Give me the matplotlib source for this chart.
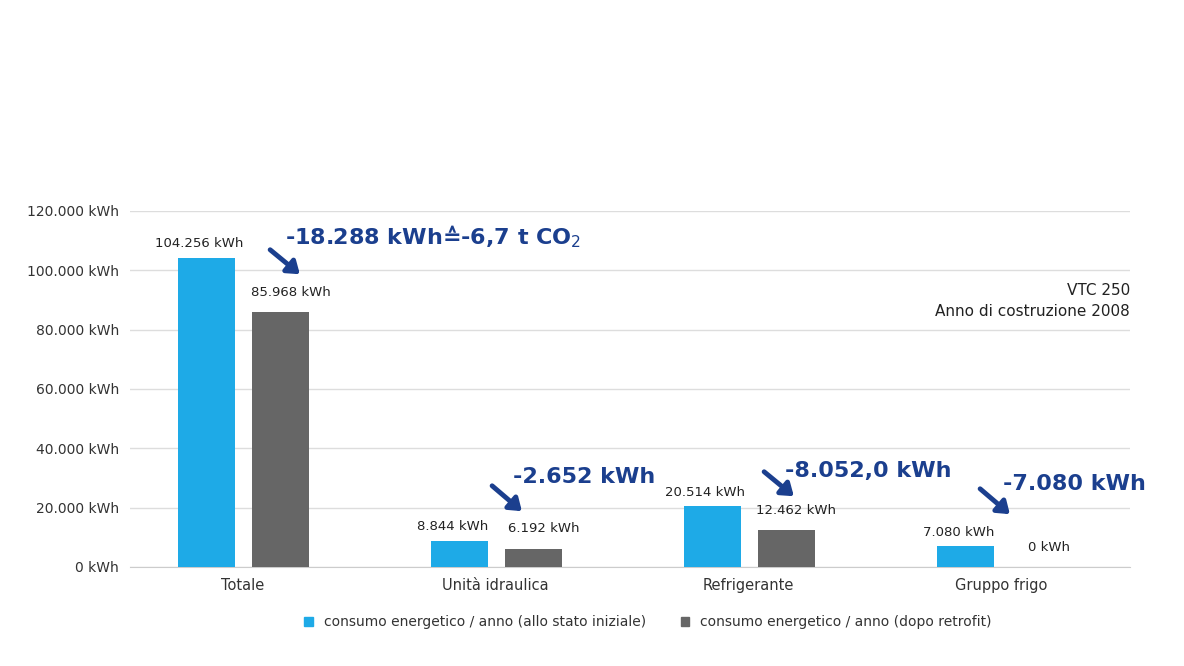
import matplotlib
matplotlib.use("Agg")
import matplotlib.pyplot as plt
import numpy as np

categories = ["Totale", "Unità idraulica", "Refrigerante", "Gruppo frigo"]
before = [104256, 8844, 20514, 7080]
after = [85968, 6192, 12462, 0]
before_labels = ["104.256 kWh", "8.844 kWh", "20.514 kWh", "7.080 kWh"]
after_labels = ["85.968 kWh", "6.192 kWh", "12.462 kWh", "0 kWh"]
yticks = [0, 20000, 40000, 60000, 80000, 100000, 120000]
ytick_labels = ["0 kWh", "20.000 kWh", "40.000 kWh", "60.000 kWh", "80.000 kWh", "100.000 kWh", "120.000 kWh"]
savings = ["-18.288 kWh\u2259-6,7 t CO$_2$", "-2.652 kWh", "-8.052,0 kWh", "-7.080 kWh"]

W, H = 1184, 666
fig = plt.figure(figsize=(W/100, H/100), dpi=100)
ax = fig.add_axes([130/W, 1-567/H, 1000/W, (567-211)/H])
blue, gray, dark = "#1EAAE7", "#666666", "#1B3F8E"
x = np.arange(len(categories))
bw = 0.225
ax.bar(x-0.19, before, bw, color=blue, zorder=3)
ax.bar(x+0.1, after, bw, color=gray, zorder=3)
for i in range(len(x)):
    ax.text(x[i]-0.22, before[i]+2500, before_labels[i], ha="center", va="bottom", fontsize=9.5, color="#222")
    ax.text(x[i]+0.14, after[i]+4500, after_labels[i], ha="center", va="bottom", fontsize=9.5, color="#222")
ax.set_xlim(-0.494, 3.459)
ax.set_ylim(0, 120000)
ax.set_yticks(yticks)
ax.set_yticklabels(ytick_labels, fontsize=10, color="#333")
ax.set_xticks(x-0.05)
ax.set_xticklabels(categories, fontsize=10.5, color="#333")
ax.tick_params(length=0, pad=8)
ax.grid(axis="y", color="#dddddd", lw=1, zorder=0)
for s in ["top", "right", "left"]:
    ax.spines[s].set_visible(False)
ax.spines["bottom"].set_color("#cccccc")

def fx(p): return p/W
def fy(p): return 1-p/H
txt_pos = [(285, 237), (513, 477), (785, 471), (1003, 484)]
arr = [((268, 248), (302, 276)), ((490, 484), (524, 513)), ((762, 470), (796, 498)), ((978, 487), (1012, 516))]
for s, (tx, ty), (a, b) in zip(savings, txt_pos, arr):
    fig.text(fx(tx), fy(ty), s, fontsize=16, fontweight="bold", color=dark, va="center", ha="left")
    fig.add_artist(matplotlib.patches.FancyArrowPatch((fx(a[0]), fy(a[1])), (fx(b[0]), fy(b[1])),
                   transform=fig.transFigure, arrowstyle="-|>,head_width=5,head_length=7", lw=3.5, color=dark))

fig.text(fx(1130), fy(290), "VTC 250", ha="right", va="center", fontsize=11, color="#222")
fig.text(fx(1130), fy(312), "Anno di costruzione 2008", ha="right", va="center", fontsize=11, color="#222")

from matplotlib.patches import Patch
fig.legend(handles=[Patch(color=blue, label="consumo energetico / anno (allo stato iniziale)"),
                    Patch(color=gray, label="consumo energetico / anno (dopo retrofit)")],
           loc="center", bbox_to_anchor=(648/W, fy(622)), ncol=2, frameon=False, fontsize=10,
           handlelength=0.6, handleheight=0.6, columnspacing=2.5, labelcolor="#333")
fig.savefig("out.png", dpi=100)
